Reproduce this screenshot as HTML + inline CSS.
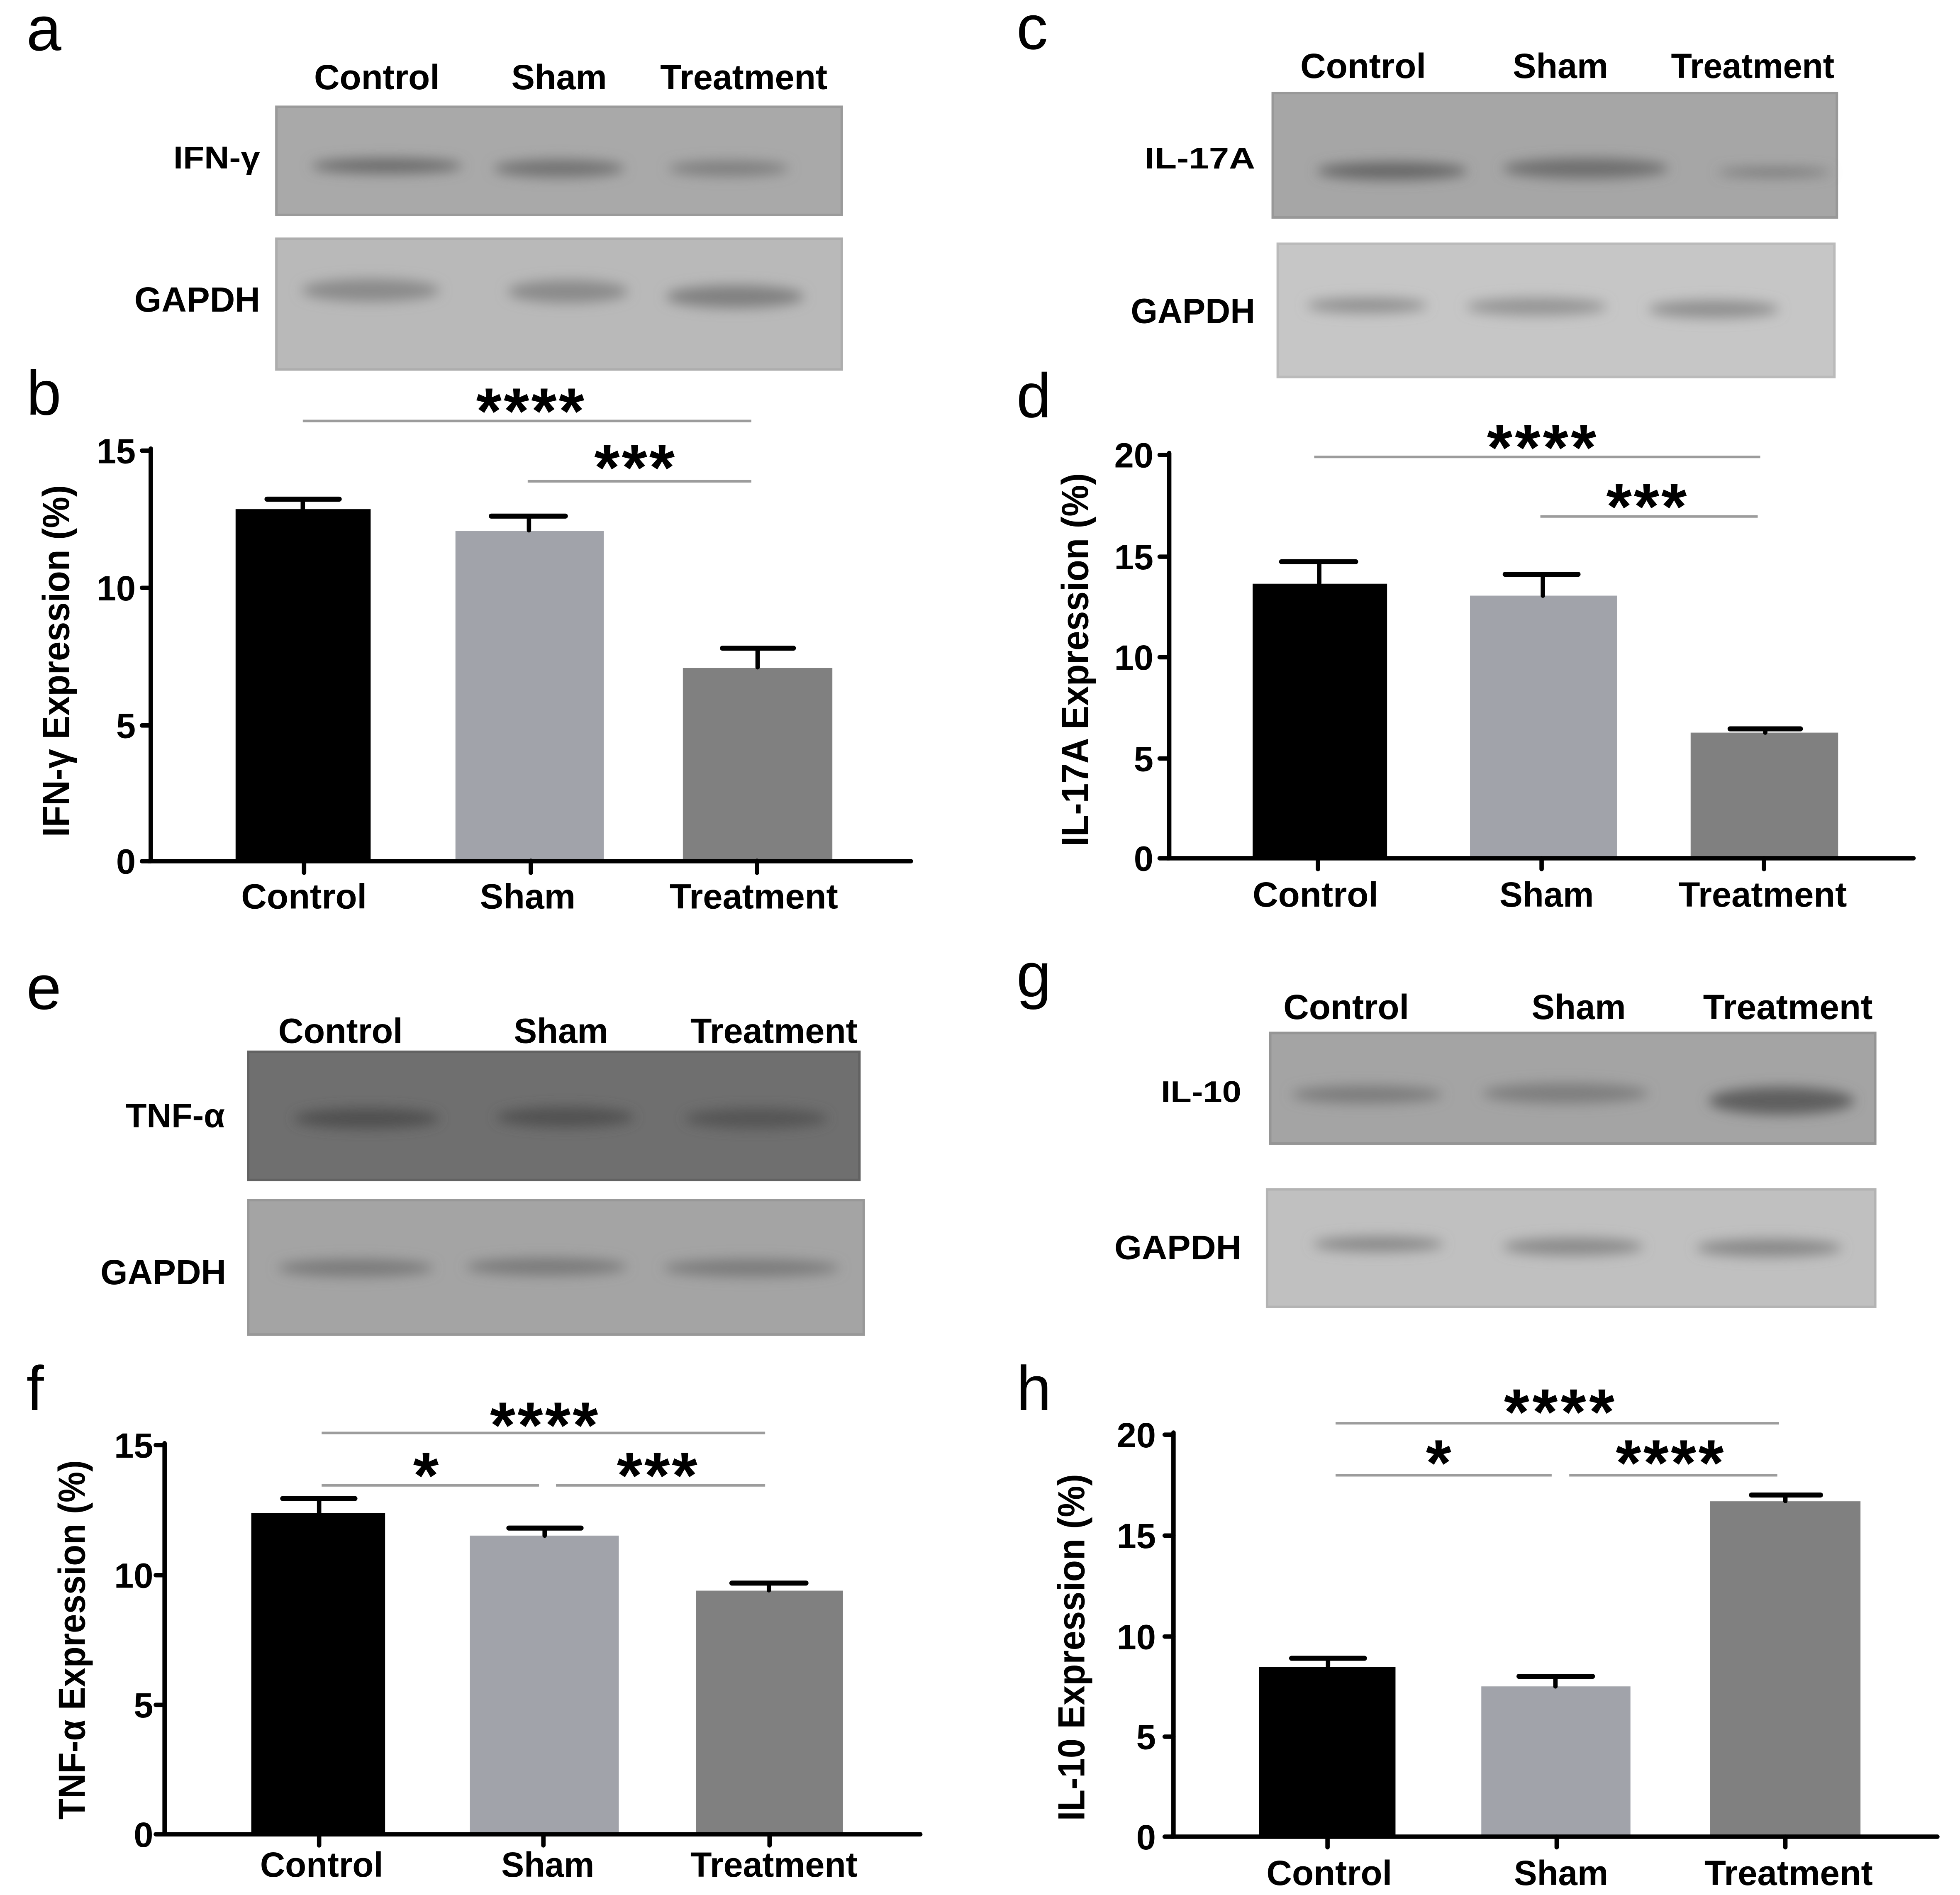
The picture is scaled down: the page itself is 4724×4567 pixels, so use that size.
<!DOCTYPE html>
<html><head><meta charset="utf-8"><style>
html,body{margin:0;padding:0;background:#fff;}
svg{display:block;}
text{font-family:"Liberation Sans",Arial,sans-serif;}
.b{font-weight:bold;}
</style></head><body>
<svg width="4724" height="4567" viewBox="0 0 1560 1508" preserveAspectRatio="none" xmlns="http://www.w3.org/2000/svg">
<defs>
<filter id="bl" x="-50%" y="-100%" width="200%" height="300%"><feGaussianBlur stdDeviation="5"/></filter>
</defs>
<rect width="1560" height="1508" fill="#fff"/>

<!-- Panel letters -->
<g font-size="50" fill="#000">
<text x="21" y="40">a</text>
<text x="21" y="330">b</text>
<text x="809" y="39">c</text>
<text x="809" y="332">d</text>
<text x="21" y="803">e</text>
<text x="21" y="1122">f</text>
<text x="809" y="793">g</text>
<text x="809" y="1122">h</text>
</g>

<!-- ===== Panel a blots ===== -->
<g class="b" font-size="28" text-anchor="middle">
<text x="300" y="71" textLength="100" lengthAdjust="spacingAndGlyphs">Control</text>
<text x="445" y="71" textLength="76" lengthAdjust="spacingAndGlyphs">Sham</text>
<text x="592" y="71" textLength="133" lengthAdjust="spacingAndGlyphs">Treatment</text>
</g>
<g class="b" text-anchor="end">
<text x="207" y="134" font-size="25" textLength="69" lengthAdjust="spacingAndGlyphs">IFN-γ</text>
<text x="207" y="248" font-size="28" textLength="100" lengthAdjust="spacingAndGlyphs">GAPDH</text>
</g>
<rect x="220" y="85" width="450" height="86" fill="#a9a9a9" stroke="#9a9a9a" stroke-width="2"/>
<g filter="url(#bl)">
<ellipse cx="308" cy="132" rx="60" ry="6" fill="#6a6a6a"/>
<ellipse cx="445" cy="134" rx="52" ry="7" fill="#727272"/>
<ellipse cx="580" cy="134" rx="48" ry="6" fill="#7e7e7e"/>
</g>
<rect x="220" y="190" width="450" height="104" fill="#b9b9b9" stroke="#adadad" stroke-width="2"/>
<g filter="url(#bl)">
<ellipse cx="295" cy="231" rx="55" ry="9" fill="#8a8a8a"/>
<ellipse cx="452" cy="232" rx="48" ry="9" fill="#8a8a8a"/>
<ellipse cx="585" cy="236" rx="55" ry="9" fill="#808080"/>
</g>

<!-- ===== Panel b chart ===== -->
<g stroke="#9c9c9c" stroke-width="2">
<line x1="241" y1="335" x2="598" y2="335"/>
<line x1="420" y1="383" x2="598" y2="383"/>
</g>
<g class="b" font-size="52" text-anchor="middle">
<text x="422" y="345" textLength="86" lengthAdjust="spacing">****</text>
<text x="505" y="390" textLength="64" lengthAdjust="spacing">***</text>
</g>
<rect x="187.5" y="405.2" width="107.5" height="280" fill="#000"/>
<rect x="362.5" y="422.6" width="118" height="263" fill="#a1a3aa"/>
<rect x="543.5" y="531.6" width="119" height="154" fill="#808080"/>
<g stroke="#000" stroke-width="3.5" stroke-linecap="round">
<line x1="241" y1="405" x2="241" y2="397.2"/>
<line x1="212.5" y1="397.2" x2="270" y2="397.2" stroke-width="4"/>
<line x1="421" y1="422" x2="421" y2="410.7"/>
<line x1="391" y1="410.7" x2="450" y2="410.7" stroke-width="4"/>
<line x1="603" y1="531" x2="603" y2="515.8"/>
<line x1="575" y1="515.8" x2="631.5" y2="515.8" stroke-width="4"/>
<line x1="120" y1="357" x2="120" y2="685.3"/>
<line x1="118" y1="685.3" x2="725" y2="685.3"/>
<line x1="113" y1="358.6" x2="120" y2="358.6"/>
<line x1="113" y1="467.8" x2="120" y2="467.8"/>
<line x1="113" y1="577.3" x2="120" y2="577.3"/>
<line x1="113" y1="685.3" x2="120" y2="685.3"/>
<line x1="242" y1="685" x2="242" y2="694.5"/>
<line x1="422.5" y1="685" x2="422.5" y2="694.5"/>
<line x1="602.5" y1="685" x2="602.5" y2="694.5"/>
</g>
<g class="b" font-size="28" text-anchor="end">
<text x="108" y="368.6">15</text>
<text x="108" y="477.8">10</text>
<text x="108" y="587.3">5</text>
<text x="108" y="695.3">0</text>
</g>
<g class="b" font-size="28" text-anchor="middle">
<text x="242" y="723" textLength="100" lengthAdjust="spacingAndGlyphs">Control</text>
<text x="420" y="723" textLength="76" lengthAdjust="spacingAndGlyphs">Sham</text>
<text x="600" y="723" textLength="134" lengthAdjust="spacingAndGlyphs">Treatment</text>
</g>
<text class="b" font-size="30" text-anchor="middle" transform="translate(55,526) rotate(-90)" textLength="280" lengthAdjust="spacingAndGlyphs">IFN-γ Expression (%)</text>

<!-- ===== Panel c blots ===== -->
<g class="b" font-size="28" text-anchor="middle">
<text x="1085" y="62" textLength="100" lengthAdjust="spacingAndGlyphs">Control</text>
<text x="1242" y="62" textLength="76" lengthAdjust="spacingAndGlyphs">Sham</text>
<text x="1395" y="62" textLength="130" lengthAdjust="spacingAndGlyphs">Treatment</text>
</g>
<g class="b" text-anchor="end">
<text x="999" y="134" font-size="24" textLength="88" lengthAdjust="spacingAndGlyphs">IL-17A</text>
<text x="999" y="257" font-size="28" textLength="99" lengthAdjust="spacingAndGlyphs">GAPDH</text>
</g>
<rect x="1013" y="74" width="449" height="99" fill="#a6a6a6" stroke="#989898" stroke-width="2"/>
<g filter="url(#bl)">
<ellipse cx="1108" cy="136" rx="60" ry="7" fill="#666"/>
<ellipse cx="1262" cy="134" rx="66" ry="8" fill="#6e6e6e"/>
<ellipse cx="1412" cy="137" rx="45" ry="3" fill="#707070"/>
</g>
<rect x="1017" y="194" width="443" height="106" fill="#c6c6c6" stroke="#bababa" stroke-width="2"/>
<g filter="url(#bl)">
<ellipse cx="1088" cy="243" rx="48" ry="6" fill="#909090"/>
<ellipse cx="1223" cy="244" rx="56" ry="7" fill="#949494"/>
<ellipse cx="1364" cy="246" rx="52" ry="7" fill="#8f8f8f"/>
</g>

<!-- ===== Panel d chart ===== -->
<g stroke="#9c9c9c" stroke-width="2">
<line x1="1046" y1="363.6" x2="1401" y2="363.6"/>
<line x1="1226" y1="411" x2="1399" y2="411"/>
</g>
<g class="b" font-size="52" text-anchor="middle">
<text x="1227" y="374" textLength="87" lengthAdjust="spacing">****</text>
<text x="1310.5" y="421" textLength="64" lengthAdjust="spacing">***</text>
</g>
<rect x="997" y="464.5" width="107" height="218.5" fill="#000"/>
<rect x="1170" y="474" width="117" height="209" fill="#a1a3aa"/>
<rect x="1345.6" y="583" width="117.4" height="100" fill="#808080"/>
<g stroke="#000" stroke-width="3.5" stroke-linecap="round">
<line x1="1050" y1="464" x2="1050" y2="447"/>
<line x1="1020" y1="447" x2="1079" y2="447" stroke-width="4"/>
<line x1="1228" y1="474" x2="1228" y2="457"/>
<line x1="1198" y1="457" x2="1256" y2="457" stroke-width="4"/>
<line x1="1405" y1="583" x2="1405" y2="580"/>
<line x1="1377" y1="580" x2="1433" y2="580" stroke-width="4"/>
<line x1="930.6" y1="360.5" x2="930.6" y2="683"/>
<line x1="929" y1="683" x2="1523" y2="683"/>
<line x1="923" y1="362" x2="930" y2="362"/>
<line x1="923" y1="443" x2="930" y2="443"/>
<line x1="923" y1="523" x2="930" y2="523"/>
<line x1="923" y1="603.6" x2="930" y2="603.6"/>
<line x1="923" y1="683" x2="930" y2="683"/>
<line x1="1049" y1="683" x2="1049" y2="691.6"/>
<line x1="1227" y1="683" x2="1227" y2="691.6"/>
<line x1="1404" y1="683" x2="1404" y2="691.6"/>
</g>
<g class="b" font-size="28" text-anchor="end">
<text x="918" y="372">20</text>
<text x="918" y="453">15</text>
<text x="918" y="533">10</text>
<text x="918" y="613.6">5</text>
<text x="918" y="693">0</text>
</g>
<g class="b" font-size="28" text-anchor="middle">
<text x="1047" y="721.5" textLength="100" lengthAdjust="spacingAndGlyphs">Control</text>
<text x="1231" y="721.5" textLength="75" lengthAdjust="spacingAndGlyphs">Sham</text>
<text x="1403" y="721.5" textLength="134" lengthAdjust="spacingAndGlyphs">Treatment</text>
</g>
<text class="b" font-size="30" text-anchor="middle" transform="translate(866,525) rotate(-90)" textLength="297" lengthAdjust="spacingAndGlyphs">IL-17A Expression (%)</text>

<!-- ===== Panel e blots ===== -->
<g class="b" font-size="28" text-anchor="middle">
<text x="271" y="830" textLength="99" lengthAdjust="spacingAndGlyphs">Control</text>
<text x="446.5" y="830" textLength="75" lengthAdjust="spacingAndGlyphs">Sham</text>
<text x="616" y="830" textLength="133" lengthAdjust="spacingAndGlyphs">Treatment</text>
</g>
<g class="b" text-anchor="end">
<text x="179" y="897" font-size="27" textLength="79" lengthAdjust="spacingAndGlyphs">TNF-α</text>
<text x="180" y="1022" font-size="28" textLength="100" lengthAdjust="spacingAndGlyphs">GAPDH</text>
</g>
<rect x="197.5" y="837" width="486.5" height="102" fill="#6f6f6f" stroke="#626262" stroke-width="2"/>
<g filter="url(#bl)">
<ellipse cx="292" cy="890" rx="58" ry="8" fill="#505050"/>
<ellipse cx="450" cy="889" rx="55" ry="8" fill="#515151"/>
<ellipse cx="602" cy="890" rx="57" ry="8" fill="#545454"/>
</g>
<rect x="197.5" y="955" width="490" height="107" fill="#a4a4a4" stroke="#989898" stroke-width="2"/>
<g filter="url(#bl)">
<ellipse cx="283" cy="1009" rx="62" ry="7" fill="#7a7a7a"/>
<ellipse cx="435" cy="1008" rx="64" ry="7" fill="#7a7a7a"/>
<ellipse cx="598" cy="1009" rx="70" ry="7" fill="#7c7c7c"/>
</g>

<!-- ===== Panel f chart ===== -->
<g stroke="#9c9c9c" stroke-width="2">
<line x1="256" y1="1140.3" x2="609" y2="1140.3"/>
<line x1="256" y1="1182" x2="429" y2="1182"/>
<line x1="442.5" y1="1182" x2="609" y2="1182"/>
</g>
<g class="b" font-size="52" text-anchor="middle">
<text x="433" y="1152" textLength="86" lengthAdjust="spacing">****</text>
<text x="339" y="1192">*</text>
<text x="523" y="1192" textLength="64" lengthAdjust="spacing">***</text>
</g>
<rect x="200" y="1204" width="106.5" height="255.7" fill="#000"/>
<rect x="374" y="1222" width="118.5" height="237.7" fill="#a1a3aa"/>
<rect x="554" y="1265.8" width="117" height="193.9" fill="#808080"/>
<g stroke="#000" stroke-width="3.5" stroke-linecap="round">
<line x1="254" y1="1204" x2="254" y2="1192.5"/>
<line x1="225" y1="1192.5" x2="282.5" y2="1192.5" stroke-width="4"/>
<line x1="433.5" y1="1222" x2="433.5" y2="1216"/>
<line x1="405" y1="1216" x2="462.5" y2="1216" stroke-width="4"/>
<line x1="612" y1="1265.5" x2="612" y2="1259.8"/>
<line x1="582.5" y1="1259.8" x2="641.5" y2="1259.8" stroke-width="4"/>
<line x1="131" y1="1148.5" x2="131" y2="1459.7"/>
<line x1="129" y1="1459.7" x2="732.5" y2="1459.7"/>
<line x1="124" y1="1150" x2="131" y2="1150"/>
<line x1="124" y1="1253.5" x2="131" y2="1253.5"/>
<line x1="124" y1="1356.7" x2="131" y2="1356.7"/>
<line x1="124" y1="1459.7" x2="131" y2="1459.7"/>
<line x1="254" y1="1459.7" x2="254" y2="1468.5"/>
<line x1="432.5" y1="1459.7" x2="432.5" y2="1468.5"/>
<line x1="612.5" y1="1459.7" x2="612.5" y2="1468.5"/>
</g>
<g class="b" font-size="28" text-anchor="end">
<text x="122" y="1160">15</text>
<text x="122" y="1263.5">10</text>
<text x="122" y="1366.7">5</text>
<text x="122" y="1469.7">0</text>
</g>
<g class="b" font-size="28" text-anchor="middle">
<text x="256" y="1493.5" textLength="98" lengthAdjust="spacingAndGlyphs">Control</text>
<text x="436" y="1493.5" textLength="74" lengthAdjust="spacingAndGlyphs">Sham</text>
<text x="616" y="1493.5" textLength="133" lengthAdjust="spacingAndGlyphs">Treatment</text>
</g>
<text class="b" font-size="30" text-anchor="middle" transform="translate(67.5,1305) rotate(-90)" textLength="286" lengthAdjust="spacingAndGlyphs">TNF-α Expression (%)</text>

<!-- ===== Panel g blots ===== -->
<g class="b" font-size="28" text-anchor="middle">
<text x="1071.5" y="811" textLength="100" lengthAdjust="spacingAndGlyphs">Control</text>
<text x="1256.5" y="811" textLength="75" lengthAdjust="spacingAndGlyphs">Sham</text>
<text x="1423" y="811" textLength="135" lengthAdjust="spacingAndGlyphs">Treatment</text>
</g>
<g class="b" text-anchor="end">
<text x="988" y="877" font-size="24" textLength="64" lengthAdjust="spacingAndGlyphs">IL-10</text>
<text x="988" y="1002" font-size="27" textLength="101" lengthAdjust="spacingAndGlyphs">GAPDH</text>
</g>
<rect x="1011" y="822" width="481.5" height="88" fill="#a4a4a4" stroke="#959595" stroke-width="2"/>
<g filter="url(#bl)">
<ellipse cx="1088" cy="871" rx="60" ry="7" fill="#7c7c7c"/>
<ellipse cx="1246" cy="870" rx="66" ry="8" fill="#7e7e7e"/>
<ellipse cx="1418" cy="876" rx="58" ry="11" fill="#5e5e5e"/>
</g>
<rect x="1008.5" y="946.5" width="484" height="93.5" fill="#c0c0c0" stroke="#b3b3b3" stroke-width="2"/>
<g filter="url(#bl)">
<ellipse cx="1097" cy="990" rx="52" ry="6" fill="#888"/>
<ellipse cx="1252" cy="992" rx="56" ry="7" fill="#8a8a8a"/>
<ellipse cx="1408" cy="993" rx="58" ry="7" fill="#888"/>
</g>

<!-- ===== Panel h chart ===== -->
<g stroke="#9c9c9c" stroke-width="2">
<line x1="1063" y1="1132.6" x2="1416" y2="1132.6"/>
<line x1="1063" y1="1174" x2="1235" y2="1174"/>
<line x1="1249" y1="1174" x2="1414.6" y2="1174"/>
</g>
<g class="b" font-size="52" text-anchor="middle">
<text x="1241" y="1141.5" textLength="88" lengthAdjust="spacing">****</text>
<text x="1145" y="1182">*</text>
<text x="1329" y="1182" textLength="86" lengthAdjust="spacing">****</text>
</g>
<rect x="1002" y="1326.5" width="108.7" height="135.1" fill="#000"/>
<rect x="1179" y="1342" width="118.7" height="119.6" fill="#a1a3aa"/>
<rect x="1361" y="1194.7" width="119.8" height="266.9" fill="#808080"/>
<g stroke="#000" stroke-width="3.5" stroke-linecap="round">
<line x1="1057" y1="1326" x2="1057" y2="1319.6"/>
<line x1="1028" y1="1319.6" x2="1086" y2="1319.6" stroke-width="4"/>
<line x1="1238" y1="1342" x2="1238" y2="1334"/>
<line x1="1209" y1="1334" x2="1267.5" y2="1334" stroke-width="4"/>
<line x1="1421" y1="1194.5" x2="1421" y2="1189.7"/>
<line x1="1394" y1="1189.7" x2="1449" y2="1189.7" stroke-width="4"/>
<line x1="934" y1="1140" x2="934" y2="1461.6"/>
<line x1="932" y1="1461.6" x2="1542" y2="1461.6"/>
<line x1="927" y1="1141.7" x2="934" y2="1141.7"/>
<line x1="927" y1="1222" x2="934" y2="1222"/>
<line x1="927" y1="1302.3" x2="934" y2="1302.3"/>
<line x1="927" y1="1382" x2="934" y2="1382"/>
<line x1="927" y1="1461.6" x2="934" y2="1461.6"/>
<line x1="1056.6" y1="1461.6" x2="1056.6" y2="1470"/>
<line x1="1239" y1="1461.6" x2="1239" y2="1470"/>
<line x1="1421" y1="1461.6" x2="1421" y2="1470"/>
</g>
<g class="b" font-size="28" text-anchor="end">
<text x="920" y="1151.7">20</text>
<text x="920" y="1232">15</text>
<text x="920" y="1312.3">10</text>
<text x="920" y="1392">5</text>
<text x="920" y="1471.6">0</text>
</g>
<g class="b" font-size="28" text-anchor="middle">
<text x="1058" y="1500" textLength="100" lengthAdjust="spacingAndGlyphs">Control</text>
<text x="1242.5" y="1500" textLength="75" lengthAdjust="spacingAndGlyphs">Sham</text>
<text x="1423.6" y="1500" textLength="134" lengthAdjust="spacingAndGlyphs">Treatment</text>
</g>
<text class="b" font-size="30" text-anchor="middle" transform="translate(863,1311) rotate(-90)" textLength="276" lengthAdjust="spacingAndGlyphs">IL-10 Expression (%)</text>
</svg>
</body></html>
